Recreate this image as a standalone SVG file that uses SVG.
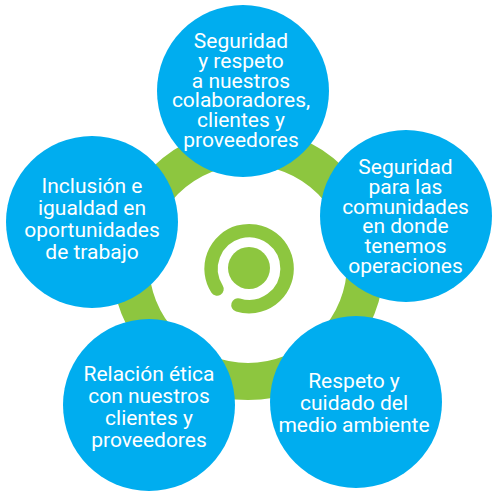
<svg xmlns="http://www.w3.org/2000/svg" width="500" height="500" viewBox="0 0 500 500">
<style>
.n{fill:#00adef}
.t{fill:#fff;font-family:"Roboto","Liberation Sans",sans-serif;font-size:21px;font-weight:400;text-anchor:middle;letter-spacing:0;word-spacing:0}
</style>
<rect width="500" height="500" fill="#fff"/>
<g id="connectors"><circle cx="248" cy="264" r="117.500" fill="none" stroke="#8dc63f" stroke-width="37"/></g>
<g id="logo" fill="none" stroke="#8dc63f">
<circle cx="249" cy="268" r="21" fill="#8dc63f" stroke="none"/>
<path d="M217 289A38 38 0 1 1 238 305" stroke-width="13.500" stroke-linecap="round"/>
</g>
<g id="n1"><circle class="n" cx="243" cy="91" r="86"/><text class="t"><tspan x="241" y="48">Seguridad</tspan><tspan x="241" y="68">y respeto</tspan><tspan x="241" y="88">a nuestros</tspan><tspan x="241" y="107">colaboradores,</tspan><tspan x="241" y="127">clientes y</tspan><tspan x="241" y="147">proveedores</tspan></text></g>
<g id="n2"><circle class="n" cx="406" cy="216" r="86"/><text class="t"><tspan x="405.500" y="174">Seguridad</tspan><tspan x="405.500" y="194">para las</tspan><tspan x="405.500" y="214">comunidades</tspan><tspan x="405.500" y="233">en donde</tspan><tspan x="405.500" y="253">tenemos</tspan><tspan x="405.500" y="273">operaciones</tspan></text></g>
<g id="n3"><circle class="n" cx="356" cy="402" r="86"/><text class="t"><tspan x="354" y="388">Respeto y</tspan><tspan x="354" y="410">cuidado del</tspan><tspan x="354" y="432">medio ambiente</tspan></text></g>
<g id="n4"><circle class="n" cx="149" cy="405" r="86"/><text class="t"><tspan x="149" y="381">Relación ética</tspan><tspan x="149" y="403">con nuestros</tspan><tspan x="149" y="425">clientes y</tspan><tspan x="149" y="447">proveedores</tspan></text></g>
<g id="n5"><circle class="n" cx="92" cy="222" r="86"/><text class="t"><tspan x="92" y="193">Inclusión e</tspan><tspan x="92" y="215">igualdad en</tspan><tspan x="92" y="237">oportunidades</tspan><tspan x="92" y="259">de trabajo</tspan></text></g>
</svg>
